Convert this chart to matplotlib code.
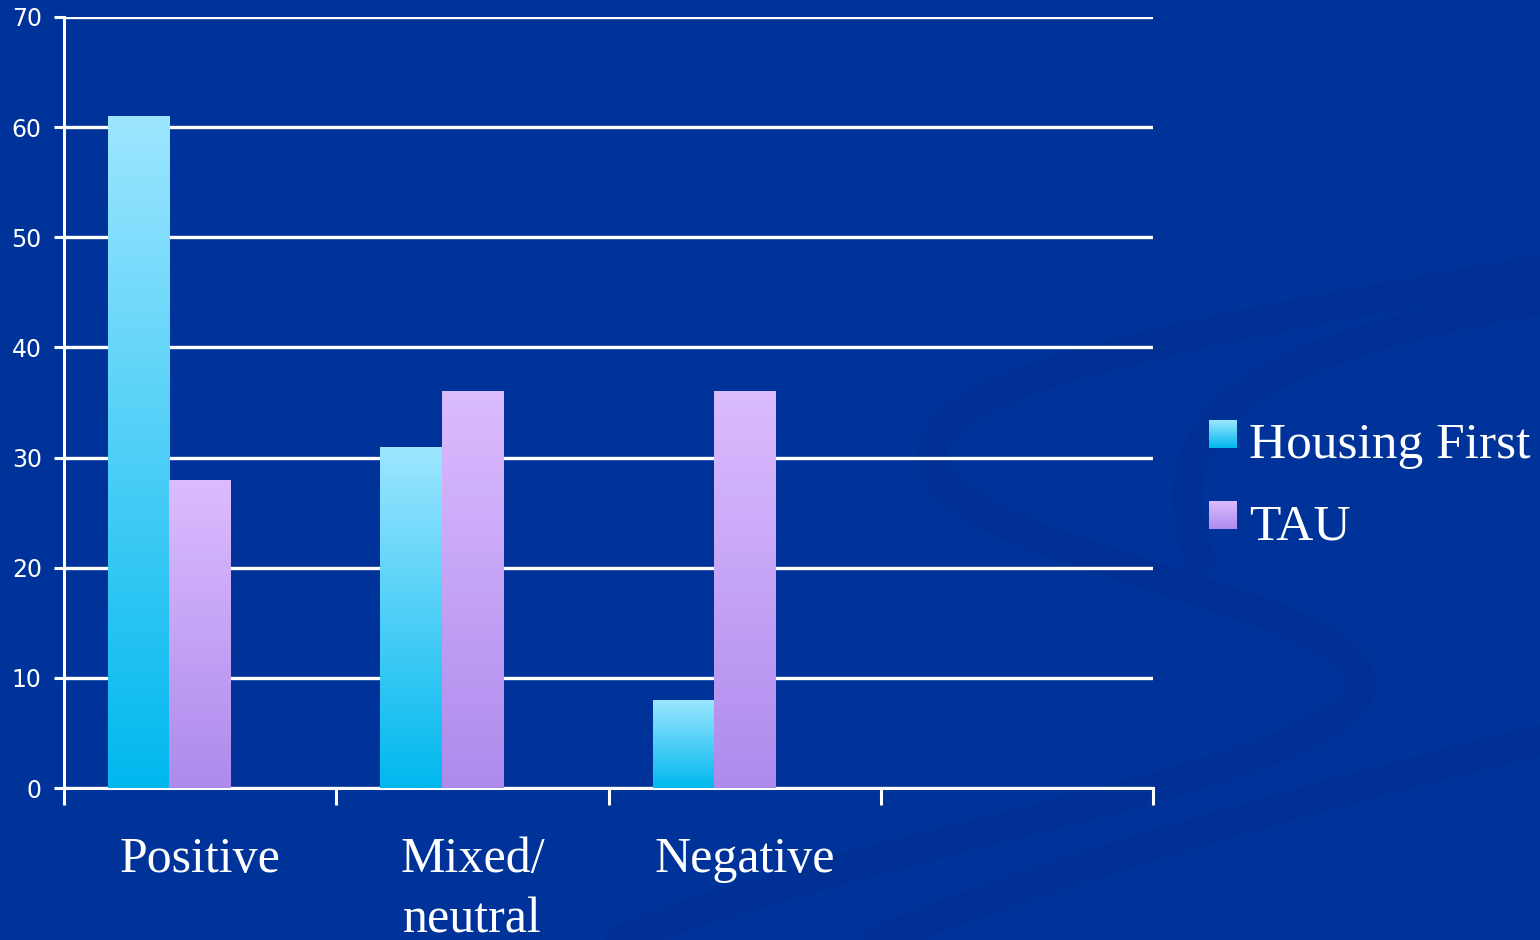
import matplotlib.pyplot as plt
import numpy as np
from matplotlib.path import Path
from matplotlib.patches import PathPatch
from matplotlib.colors import LinearSegmentedColormap

# data
categories = ['Positive', 'Mixed/\nneutral', 'Negative', '']
housing_first = [61, 31, 8, 0]
tau = [28, 36, 36, 0]
series_names = ['Housing First', 'TAU']

bg = '#003399'
hf_cmap = LinearSegmentedColormap.from_list('hf', ['#00b8ee', '#9de6ff'])
tau_cmap = LinearSegmentedColormap.from_list('tau', ['#ae8aec', '#dcbcff'])

fig = plt.figure(figsize=(15.4, 9.4), dpi=100, facecolor=bg)

# background swooshes (figure-pixel coords, y from top)
bgax = fig.add_axes([0, 0, 1, 1], zorder=-5)
bgax.set_xlim(0, 1540)
bgax.set_ylim(940, 0)
bgax.axis('off')
swoosh = '#002f8f'
curves = [
    [(1540, 270), (1200, 330), (900, 380), (935, 470), (980, 560), (1350, 600), (1360, 680), (1370, 770), (900, 830), (620, 940)],
    [(1540, 300), (1250, 350), (1150, 420), (1200, 560)],
    [(1540, 740), (1300, 800), (1050, 870), (880, 940)],
]
for pts in curves:
    codes = [Path.MOVETO] + [Path.CURVE4] * (len(pts) - 1)
    bgax.add_patch(PathPatch(Path(pts, codes), facecolor='none', edgecolor=swoosh,
                             lw=22, alpha=0.6, capstyle='round'))

ax = fig.add_axes([64 / 1540, 1 - 788 / 940, (1153 - 64) / 1540, (788 - 17) / 940])
ax.set_facecolor('none')

w = 0.225
x = np.arange(len(categories)) + 0.5
bars_hf = ax.bar(x - 1.5 * w, housing_first, width=w, align='edge', zorder=3)
bars_tau = ax.bar(x - 0.5 * w, tau, width=w, align='edge', zorder=3)

grad = np.linspace(0, 1, 256).reshape(-1, 1)
for bars, cmap in [(bars_hf, hf_cmap), (bars_tau, tau_cmap)]:
    for b in bars:
        h = b.get_height()
        if h <= 0:
            continue
        b.set_facecolor('none')
        b.set_edgecolor('none')
        im = ax.imshow(grad, cmap=cmap, origin='lower', aspect='auto', zorder=3,
                       extent=(b.get_x(), b.get_x() + b.get_width(), 0, h))
        im.set_clip_path(b)

ax.set_xlim(0, 4)
ax.set_ylim(0, 70)
ax.set_yticks(range(0, 71, 10))
ax.yaxis.grid(True, color='white', lw=2.4, zorder=1)
ax.set_axisbelow(True)

for s in ['top', 'right']:
    ax.spines[s].set_visible(False)
for s in ['left', 'bottom']:
    ax.spines[s].set_color('white')
    ax.spines[s].set_linewidth(2.2)

ax.set_xticks(range(5))
ax.set_xticklabels([])
ax.set_xticks(x, minor=True)
ax.set_xticklabels(categories, minor=True, family='Liberation Serif', fontsize=36,
                   color='white', linespacing=1.4, va='top')
ax.tick_params(axis='x', which='major', length=12, width=2.2, color='white', direction='out')
ax.tick_params(axis='x', which='minor', length=0, pad=35)
ax.tick_params(axis='y', length=7, width=2.2, color='white', labelcolor='white',
               labelsize=17, pad=9)
for t in ax.get_yticklabels():
    t.set_family('DejaVu Sans')

# legend with gradient squares
for i, (name, cmap) in enumerate(zip(series_names, [hf_cmap, tau_cmap])):
    top = 420 + i * 81
    lax = fig.add_axes([1209 / 1540, 1 - (top + 28) / 940, 28 / 1540, 28 / 940])
    lax.imshow(grad, cmap=cmap, origin='lower', aspect='auto')
    lax.axis('off')
    fig.text(1249 / 1540, 1 - (top + 26) / 940, name, family='Liberation Serif',
             fontsize=37, color='white', va='center', ha='left')

fig.savefig('out.png', dpi=100, facecolor=bg)
